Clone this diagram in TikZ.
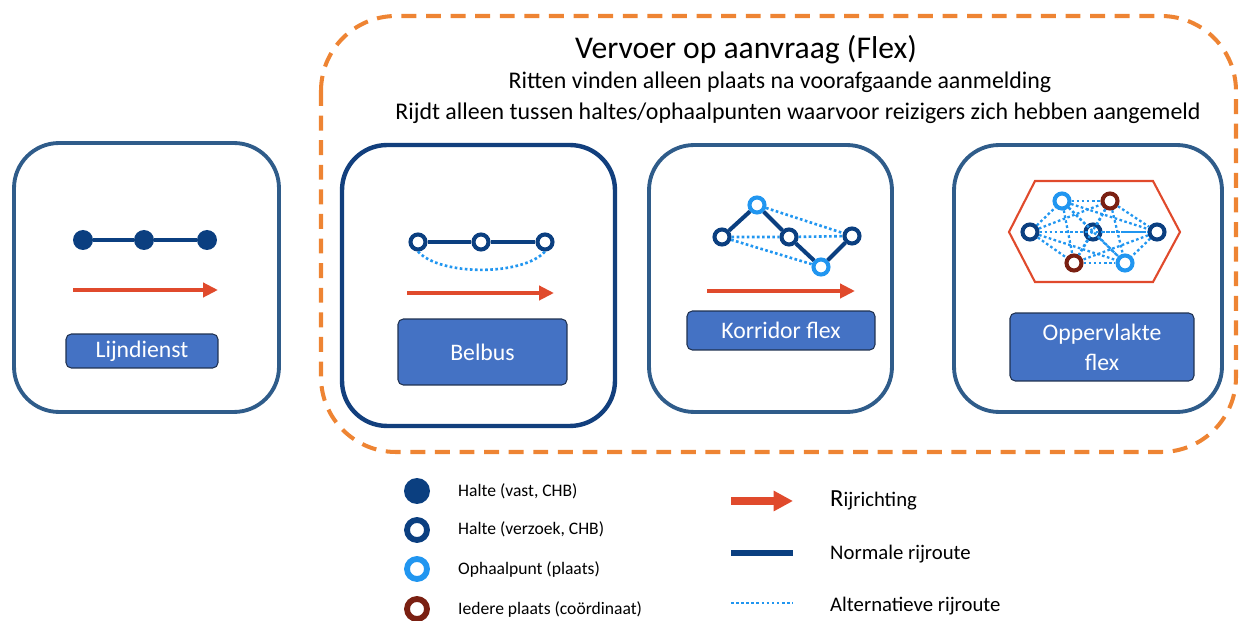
\documentclass[tikz,border=0pt]{standalone}
\usepackage{fontspec}
\setmainfont{Carlito}
\usepackage{tikz}
\usetikzlibrary{arrows.meta}

\definecolor{donkerblauw}{HTML}{0B3F80}
\definecolor{lichtblauw}{HTML}{2196F0}
\definecolor{bruin}{HTML}{7A2012}
\definecolor{rood}{HTML}{E04A2C}
\definecolor{oranje}{HTML}{EE8433}
\definecolor{kaderblauw}{HTML}{2F5C8A}
\definecolor{belblauw}{HTML}{123F7D}
\definecolor{knopblauw}{HTML}{4472C4}
\definecolor{knoprand}{HTML}{1F3150}

\begin{document}
\begin{tikzpicture}[x=0.02cm, y=-0.02cm,
  paneel/.style={draw=kaderblauw, line width=2.2pt, rounded corners=0.9cm, inner sep=0pt},
  knop/.style={draw=knoprand, fill=knopblauw, rounded corners=3pt, text=white, align=center,
    font=\fontsize{13.5}{17}\selectfont, line width=0.6pt, inner sep=2pt},
  vast/.style={circle, fill=donkerblauw, inner sep=0pt, minimum size=0.4cm},
  verzoek/.style={circle, draw=donkerblauw, fill=white, line width=2.3pt, inner sep=0pt, minimum size=0.3cm},
  ophaal/.style={verzoek, draw=lichtblauw},
  plaats/.style={verzoek, draw=bruin},
  route/.style={donkerblauw, line width=2.3pt},
  alt/.style={lichtblauw, line width=1.5pt, dash pattern=on 1.5pt off 1.4pt},
  pijl/.style={rood, line width=2.3pt, -{Triangle[length=8.5pt, width=8pt]}},
  legtekst/.style={anchor=west, font=\fontsize{10}{12}\selectfont}]

\useasboundingbox (0,0) rectangle (1242,621);

% Kader vervoer op aanvraag
\draw[oranje, line width=2.3pt, dash pattern=on 8.5pt off 5.5pt, rounded corners=1.5cm]
  (321,16) rectangle (1236,452);
\node[font=\fontsize{18}{20}\selectfont] (titel) at (746,50) {Vervoer op aanvraag (Flex)};
\node[font=\fontsize{13.6}{15}\selectfont] (regel1) at (780,82) {Ritten vinden alleen plaats na voorafgaande aanmelding};
\node[font=\fontsize{13.6}{15}\selectfont] (regel2) at (798,113) {Rijdt alleen tussen haltes/ophaalpunten waarvoor reizigers zich hebben aangemeld};

% Panelen
\node[paneel, minimum width=5.30cm, minimum height=5.38cm] (p1) at (146.5,277.5) {};
\node[paneel, draw=belblauw, line width=2.5pt, minimum width=5.46cm, minimum height=5.62cm] (p2) at (478.5,285.5) {};
\node[paneel, minimum width=4.86cm, minimum height=5.34cm] (p3) at (770.5,278.5) {};
\node[paneel, minimum width=5.36cm, minimum height=5.34cm] (p4) at (1088,278.5) {};

% Lijndienst
\node[vast] (l1) at (83,240) {};
\node[vast] (l2) at (144,240) {};
\node[vast] (l3) at (207,240) {};
\draw[route] (l1) -- (l2) -- (l3);
\draw[pijl] (73,290) -- (218,290);
\node[knop, minimum width=3.04cm, minimum height=0.68cm] (k1) at (142,351) {Lijndienst};

% Belbus
\node[verzoek] (b1) at (418,242) {};
\node[verzoek] (b2) at (481,242) {};
\node[verzoek] (b3) at (545,242) {};
\draw[route] (b1) -- (b2) -- (b3);
\draw[alt] (b1.south) .. controls (440,276) and (523,276) .. (b3.south);
\draw[pijl] (407,293) -- (554,293);
\node[knop, minimum width=3.38cm, minimum height=1.32cm] (k2) at (482.5,352) {Belbus};

% Korridor flex
\node[verzoek] (c1) at (722,237) {};
\node[ophaal]  (c2) at (757,205) {};
\node[verzoek] (c3) at (789,237) {};
\node[ophaal]  (c4) at (821,267) {};
\node[verzoek] (c5) at (852,236) {};
\draw[alt] (c2) -- (c5);
\draw[alt] (c1) -- (c3) -- (c5);
\draw[alt] (c1) -- (c4);
\draw[route] (c1) -- (c2) -- (c3) -- (c4) -- (c5);
\draw[pijl] (707,291) -- (855,291);
\node[knop, minimum width=3.76cm, minimum height=0.78cm] (k3) at (781,330.5) {Korridor flex};

% Oppervlakte flex
\draw[rood, line width=1.2pt] (1009,232) -- (1035,181) -- (1153,181) -- (1180,232)
  -- (1153,282) -- (1035,282) -- cycle;
\node[verzoek] (o1) at (1030,232) {};
\node[ophaal]  (o2) at (1062,201) {};
\node[plaats]  (o3) at (1110,201) {};
\node[verzoek] (o4) at (1093,232) {};
\node[verzoek] (o5) at (1157,232) {};
\node[plaats]  (o6) at (1074,263) {};
\node[ophaal]  (o7) at (1125,263) {};
\foreach \a/\b in {o1/o2, o1/o3, o1/o4, o1/o5, o1/o6, o1/o7, o2/o3, o2/o4, o2/o5, o2/o6,
  o2/o7, o3/o4, o3/o5, o3/o6, o3/o7, o4/o5, o4/o6, o4/o7, o5/o6, o5/o7, o6/o7}
  \draw[alt, line width=1.3pt] (\a) -- (\b);
\node[knop, minimum width=3.68cm, minimum height=1.36cm] (k4) at (1102,347) {Oppervlakte\\flex};

% Legenda
\node[vast, minimum size=0.52cm] (lv) at (417,491) {};
\node[verzoek, line width=3.3pt, minimum size=0.4cm] (lz) at (417,530) {};
\node[ophaal, line width=3.3pt, minimum size=0.4cm] (lo) at (417,569) {};
\node[plaats, line width=3.3pt, minimum size=0.4cm] (lp) at (417,609) {};
\node[legtekst] (tv) at (452,491) {Halte (vast, CHB)};
\node[legtekst] (tz) at (452,529) {Halte (verzoek, CHB)};
\node[legtekst] (to) at (452,569) {Ophaalpunt (plaats)};
\node[legtekst] (tp) at (452,609) {Iedere plaats (coördinaat)};

\draw[rood, line width=4pt, -{Triangle[length=11pt, width=11pt]}] (731,501) -- (793,501);
\draw[route, line width=3pt] (731,553) -- (793,553);
\draw[alt] (731,603) -- (793,603);
\node[legtekst, font=\fontsize{11.8}{14}\selectfont] (tr) at (824,500) {{\fontsize{14}{14}\selectfont R}ijrichting};
\node[legtekst, font=\fontsize{11.8}{14}\selectfont] (tn) at (824,554) {Normale rijroute};
\node[legtekst, font=\fontsize{11.8}{14}\selectfont] (ta) at (824,606) {Alternatieve rijroute};

\end{tikzpicture}
\end{document}
